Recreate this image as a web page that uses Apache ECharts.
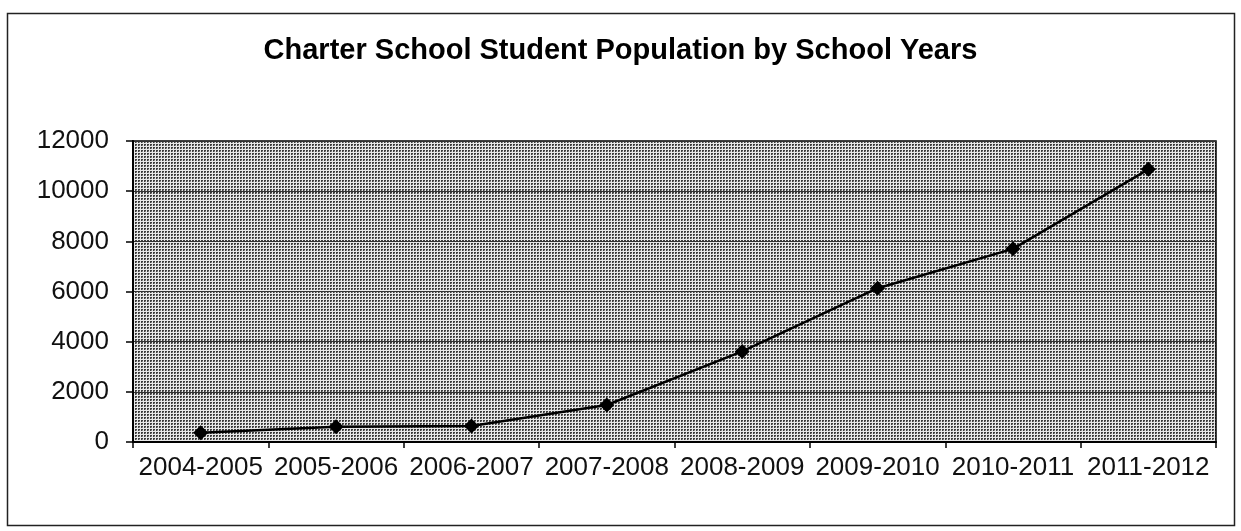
<!DOCTYPE html>
<html>
<head>
<meta charset="utf-8">
<script src="https://cdn.jsdelivr.net/npm/echarts@6/dist/echarts.min.js"></script>
<style>
  html, body { margin: 0; padding: 0; background: #fff; }
  #chart { width: 1241px; height: 531px; }
</style>
</head>
<body>
<div id="chart"></div>
<script>
// School years and charter school enrollment
const schoolYears = ['2004-2005', '2005-2006', '2006-2007', '2007-2008', '2008-2009', '2009-2010', '2010-2011', '2011-2012'];
const students = [370, 610, 640, 1475, 3610, 6130, 7700, 10870];
const yTicks = [0, 2000, 4000, 6000, 8000, 10000, 12000];

// Dotted halftone fill for the plot area
function halftone() {
  const c = document.createElement('canvas');
  c.width = 3; c.height = 3;
  const g = c.getContext('2d');
  g.fillStyle = '#e8e8e8';
  g.fillRect(0, 0, 3, 3);
  g.fillStyle = '#3c3c3c';
  g.fillRect(0, 0, 2, 2);
  g.fillStyle = '#8a8a8a';
  g.fillRect(1, 1, 1, 1);
  return c;
}

const chart = echarts.init(document.getElementById('chart'), null, { renderer: 'canvas' });
const font = '"Liberation Sans", Arial, sans-serif';

chart.setOption({
  animation: false,
  backgroundColor: '#ffffff',
  title: {
    text: 'Charter School Student Population by School Years',
    left: 'center',
    top: 31,
    textStyle: { fontFamily: font, fontSize: 29, fontWeight: 'bold', color: '#000' }
  },
  graphic: [{
    type: 'rect',
    shape: { x: 7.5, y: 13.5, width: 1227, height: 512 },
    style: { fill: 'none', stroke: '#222', lineWidth: 1.5 },
    silent: true
  }],
  grid: {
    left: 133, right: 25, top: 141, bottom: 89,
    show: true,
    backgroundColor: { image: halftone(), repeat: 'repeat' },
    borderColor: '#000', borderWidth: 1.5
  },
  xAxis: {
    type: 'category',
    data: schoolYears,
    boundaryGap: true,
    axisLine: { lineStyle: { color: '#000', width: 2 } },
    axisTick: { show: true, length: 6, lineStyle: { color: '#000', width: 1.5 } },
    axisLabel: { fontFamily: font, fontSize: 26, color: '#111', margin: 13, interval: 0 },
    splitLine: { show: false }
  },
  yAxis: {
    type: 'value',
    min: yTicks[0],
    max: yTicks[yTicks.length - 1],
    interval: 2000,
    axisLine: { show: true, lineStyle: { color: '#000', width: 2 } },
    axisTick: { show: true, length: 7, lineStyle: { color: '#000', width: 1.5 } },
    axisLabel: { fontFamily: font, fontSize: 26, color: '#111', margin: 24, formatter: v => String(v) },
    splitLine: { show: true, lineStyle: { color: '#333', width: 1.2 } }
  },
  series: [{
    type: 'line',
    data: students,
    symbol: 'diamond',
    symbolSize: 15,
    itemStyle: { color: '#000' },
    lineStyle: { color: '#000', width: 2.5 }
  }]
});
</script>
</body>
</html>
